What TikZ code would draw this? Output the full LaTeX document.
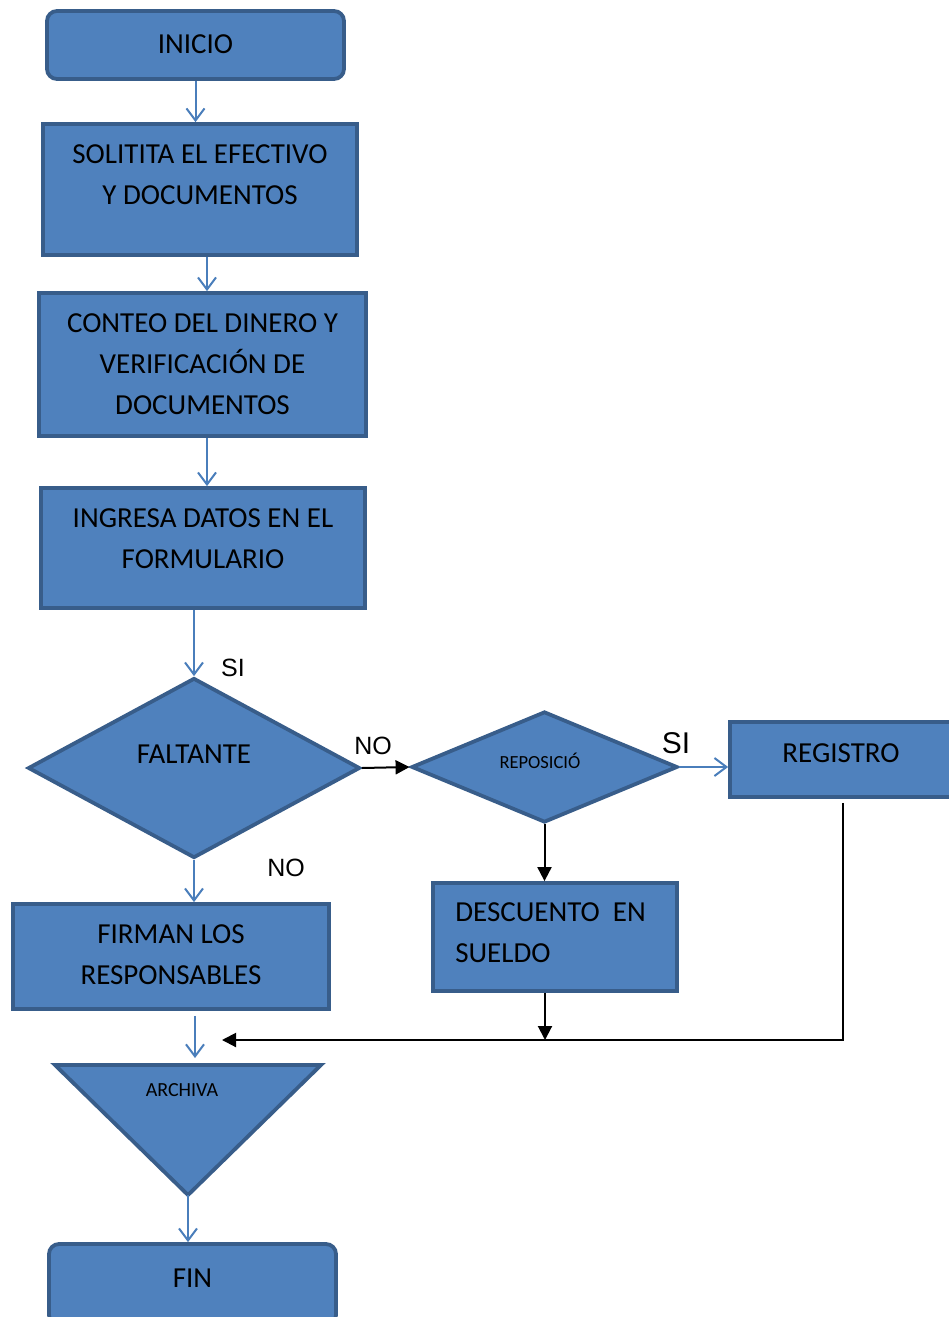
\documentclass[tikz,border=0pt]{standalone}
\usepackage{fontspec}
\setmainfont{Carlito}
\newfontfamily\arialf{Liberation Sans}
\usetikzlibrary{shapes.geometric,arrows.meta,calc}
\definecolor{fillc}{HTML}{4F81BD}
\definecolor{bordc}{HTML}{385D8A}
\definecolor{arrc}{HTML}{4A7EBB}
\tikzset{
 boxshape/.style={draw=bordc, fill=fillc, line width=3.8pt, inner sep=0pt},
 rbox/.style={boxshape, rounded corners=10pt},
 dshape/.style={boxshape, diamond},
 txt/.style={font=\fontsize{29}{41}\selectfont, align=center, text=black, inner sep=0pt},
 smalltxt/.style={text=black, inner sep=0pt},
 lab/.style={font=\arialf\fontsize{25}{30}\selectfont, inner sep=0pt},
 barrow/.style={draw=arrc, line width=2pt, -{Straight Barb[length=12pt,width=18pt]}},
 karrow/.style={draw=black, line width=2pt, -{Triangle[length=14pt,width=14pt]}},
}
\begin{document}
\begin{tikzpicture}[x=1pt,y=-1pt]
\useasboundingbox (0,0) rectangle (949,1317);
\clip (0,0) rectangle (949,1317);
% nodes
\node[rbox, minimum width=297pt, minimum height=68pt, label={[txt,yshift=1pt]center:INICIO}] (inicio) at (195.5,45) {};
\node[boxshape, minimum width=314pt, minimum height=131pt, label={[txt,yshift=15pt]center:SOLITITA EL EFECTIVO\\Y DOCUMENTOS}] (solicita) at (200,189.5) {};
\node[boxshape, minimum width=327pt, minimum height=143pt, label={[txt]center:CONTEO DEL DINERO Y\\VERIFICACIÓN DE\\DOCUMENTOS}] (conteo) at (202.5,364.5) {};
\node[boxshape, minimum width=324pt, minimum height=120pt, label={[txt,yshift=9.5pt]center:INGRESA DATOS EN EL\\FORMULARIO}] (ingresa) at (203,548) {};
\node[dshape, minimum width=332pt, minimum height=180pt, label={[txt,yshift=14pt]center:FALTANTE}] (faltante) at (194,768) {};
\node[dshape, minimum width=266pt, minimum height=111pt, label={[smalltxt,font=\fontsize{18.5}{22}\selectfont,xshift=-4.5pt,yshift=6pt]center:REPOSICIÓ}] (repos) at (544.5,767) {};
\node[boxshape, minimum width=230pt, minimum height=75pt, label={[txt,xshift=-4pt,yshift=6.5pt]center:REGISTRO}] (registro) at (845,759.5) {};
\node[boxshape, minimum width=244pt, minimum height=108pt, label={[txt,align=left,anchor=west,xshift=24pt,yshift=4pt]west:DESCUENTO\ \ EN\\SUELDO}] (descuento) at (555,937) {};
\node[boxshape, minimum width=316pt, minimum height=105pt, label={[txt,yshift=2pt]center:FIRMAN LOS\\RESPONSABLES}] (firman) at (171,956.5) {};
\coordinate (atl) at (55,1065);
\coordinate (atr) at (321,1065);
\coordinate (abot) at (188,1195);
\draw[boxshape] (atl) -- (atr) -- (abot) -- cycle;
\node[smalltxt, font=\fontsize{20}{24}\selectfont] (archiva) at (182,1090) {ARCHIVA};
\node[rbox, minimum width=287pt, minimum height=81pt, label={[txt,yshift=6.5pt]center:FIN}] (fin) at (192.5,1284.5) {};
% connectors
\draw[barrow] (inicio.south) -- (inicio.south |- solicita.north);
\draw[barrow] ([xshift=7pt]solicita.south) -- ([xshift=7pt]solicita.south |- conteo.north);
\draw[barrow] ([xshift=4.5pt]conteo.south) -- ([xshift=4.5pt]conteo.south |- ingresa.north);
\draw[barrow] ([xshift=-9pt]ingresa.south) -- (faltante.north);
\node[lab] (si1) at (233,668) {SI};
\draw[karrow] (faltante.east) -- (repos.west);
\node[lab] (no1) at (373,746) {NO};
\draw[barrow] (repos.east) -- (repos.east -| registro.west);
\node[lab, font=\arialf\fontsize{30}{36}\selectfont] (si2) at (676,743) {SI};
\draw[karrow] (repos.south) -- (repos.south |- descuento.north);
\draw[barrow] (faltante.south) -- (faltante.south |- firman.north);
\node[lab] (no2) at (286,868) {NO};
\coordinate (aenter) at (195,1058);
\draw[barrow] ([xshift=24pt,yshift=-5pt]firman.south) -- (aenter);
\coordinate (mcorner) at (843,1040);
\coordinate (mend) at (222,1040);
\draw[karrow] ([xshift=-10pt]descuento.south) -- ([xshift=-10pt]descuento.south |- mend);
\draw[karrow] ([xshift=-2pt,yshift=-4pt]registro.south) -- (mcorner) -- (mend);
\draw[barrow] (abot) -- (abot |- fin.north);
\end{tikzpicture}
\end{document}
